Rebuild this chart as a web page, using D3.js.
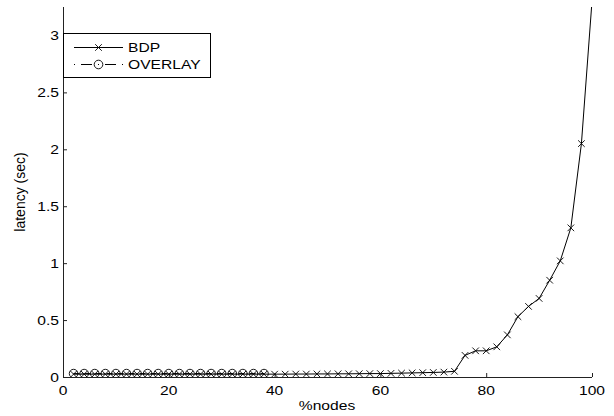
<!DOCTYPE html>
<html>
<head>
<meta charset="utf-8">
<script src="https://cdn.jsdelivr.net/npm/d3@7"></script>
<style>
  html, body { margin: 0; padding: 0; background: #fff; }
  svg { display: block; }
  text { font-family: "Liberation Sans", Arial, sans-serif; fill: #000; }
</style>
</head>
<body>
<div id="chart"></div>
<script>
// ---- data ----
const nodesPct = [2,4,6,8,10,12,14,16,18,20,22,24,26,28,30,32,34,36,38,40,
                  42,44,46,48,50,52,54,56,58,60,62,64,66,68,70,72,74,76,78,80,
                  82,84,86,88,90,92,94,96,98,100];
const bdpLatency = [0.025,0.025,0.025,0.025,0.025,0.025,0.025,0.025,0.025,0.025,
                    0.025,0.025,0.025,0.025,0.025,0.025,0.025,0.025,0.025,0.025,
                    0.025,0.026,0.026,0.027,0.027,0.028,0.028,0.029,0.030,0.030,
                    0.032,0.034,0.036,0.038,0.040,0.043,0.050,0.190,0.230,0.230,
                    0.265,0.370,0.530,0.620,0.690,0.850,1.020,1.310,2.050,3.300];
const overlayPct = [2,4,6,8,10,12,14,16,18,20,22,24,26,28,30,32,34,36,38];
const overlayLatency = [0.03,0.03,0.03,0.03,0.03,0.03,0.03,0.03,0.03,0.03,
                        0.03,0.03,0.03,0.03,0.03,0.03,0.03,0.03,0.03];
const xTicks = [0,20,40,60,80,100];
const yTicks = [0,0.5,1,1.5,2,2.5,3];
const yTickLabels = ["0","0.5","1","1.5","2","2.5","3"];
const seriesNames = ["BDP","OVERLAY"];
const xLabel = "%nodes";
const yLabel = "latency (sec)";

// ---- layout ----
const W = 614, H = 416;
const mLeft = 63, mRight = 592, mTop = 7, mBottom = 377;
const FS = 12.5, SX = 1.25;

const svg = d3.select("#chart").append("svg")
  .attr("width", W).attr("height", H);

const x = d3.scaleLinear().domain([0, 100]).range([mLeft, mRight]);
const y = d3.scaleLinear().domain([0, 3.25]).range([mBottom, mTop]);

// clip
svg.append("defs").append("clipPath").attr("id", "clip")
  .append("rect").attr("x", mLeft).attr("y", mTop)
  .attr("width", mRight - mLeft + 1).attr("height", mBottom - mTop);

// axes (ticks inward)
const gx = svg.append("g").attr("transform", `translate(0,${mBottom})`)
  .call(d3.axisBottom(x).tickValues(xTicks).tickSize(-4).tickSizeOuter(0).tickFormat(""));
const gy = svg.append("g").attr("transform", `translate(${mLeft},0)`)
  .call(d3.axisLeft(y).tickValues(yTicks).tickSize(-4).tickSizeOuter(0).tickFormat(""));
[gx, gy].forEach(g => {
  g.select(".domain").attr("stroke", "#222").attr("stroke-width", 1);
  g.selectAll(".tick line").attr("stroke", "#222").attr("stroke-width", 1);
});
gy.select(".domain").attr("d", `M0.5,${mBottom}V${mTop}`);
gx.select(".domain").attr("d", `M${mLeft},0.5H${mRight}`);

// tick labels (stretched horizontally like reference)
svg.append("g").selectAll("text").data(xTicks).join("text")
  .attr("transform", d => `translate(${x(d)},395) scale(${SX},1)`)
  .attr("text-anchor", "middle").attr("font-size", FS)
  .text(d => d);
svg.append("g").selectAll("text").data(yTicks).join("text")
  .attr("transform", d => `translate(59,${y(d) + 4.5}) scale(${SX},1)`)
  .attr("text-anchor", "end").attr("font-size", FS)
  .text((d, i) => yTickLabels[i]);

// axis titles
svg.append("text")
  .attr("transform", `translate(${(mLeft + mRight) / 2 - 0.5},410) scale(${SX},1)`)
  .attr("text-anchor", "middle").attr("font-size", FS).text(xLabel);
svg.append("text")
  .attr("transform", `translate(25,192) rotate(-90)`)
  .attr("text-anchor", "middle").attr("font-size", 14).text(yLabel);

// data
const plot = svg.append("g").attr("clip-path", "url(#clip)");
const bdp = nodesPct.map((d, i) => [d, bdpLatency[i]]);
const ov = overlayPct.map((d, i) => [d, overlayLatency[i]]);
const line = d3.line().x(d => x(d[0])).y(d => y(d[1]));

plot.append("path").datum(bdp).attr("d", line)
  .attr("fill", "none").attr("stroke", "#000").attr("stroke-width", 1);
plot.append("path").datum(ov).attr("d", line)
  .attr("fill", "none").attr("stroke", "#000").attr("stroke-width", 1)
  .attr("stroke-dasharray", "6,2,1,2");

const xm = 3.3;
function crossPath(cx, cy) {
  return `M${cx - xm},${cy - xm}L${cx + xm},${cy + xm}M${cx - xm},${cy + xm}L${cx + xm},${cy - xm}`;
}
plot.append("g").selectAll("path").data(bdp).join("path")
  .attr("d", d => crossPath(x(d[0]), y(d[1])))
  .attr("stroke", "#000").attr("stroke-width", 0.9).attr("fill", "none");
plot.append("g").selectAll("circle").data(ov).join("circle")
  .attr("cx", d => x(d[0])).attr("cy", d => y(d[1])).attr("r", 4.3)
  .attr("fill", "none").attr("stroke", "#000").attr("stroke-width", 0.9);

// legend
const lg = svg.append("g");
lg.append("rect").attr("x", 63.5).attr("y", 33.5).attr("width", 147).attr("height", 44)
  .attr("fill", "#fff").attr("stroke", "#000").attr("stroke-width", 1);
lg.append("line").attr("x1", 74).attr("x2", 123).attr("y1", 47.5).attr("y2", 47.5)
  .attr("stroke", "#000").attr("stroke-width", 1);
lg.append("path").attr("d", crossPath(98.5, 47.5))
  .attr("stroke", "#000").attr("stroke-width", 0.9).attr("fill", "none");
lg.append("line").attr("x1", 74).attr("x2", 123).attr("y1", 64.5).attr("y2", 64.5)
  .attr("stroke", "#000").attr("stroke-width", 1).attr("stroke-dasharray", "1,6,11,6");
lg.append("circle").attr("cx", 98.5).attr("cy", 64.5).attr("r", 4.3)
  .attr("fill", "none").attr("stroke", "#000").attr("stroke-width", 0.9);
lg.selectAll("text.lbl").data(seriesNames).join("text").attr("class", "lbl")
  .attr("transform", (d, i) => `translate(128,${52 + i * 17}) scale(${SX},1)`)
  .attr("font-size", FS).text(d => d);
</script>
</body>
</html>
